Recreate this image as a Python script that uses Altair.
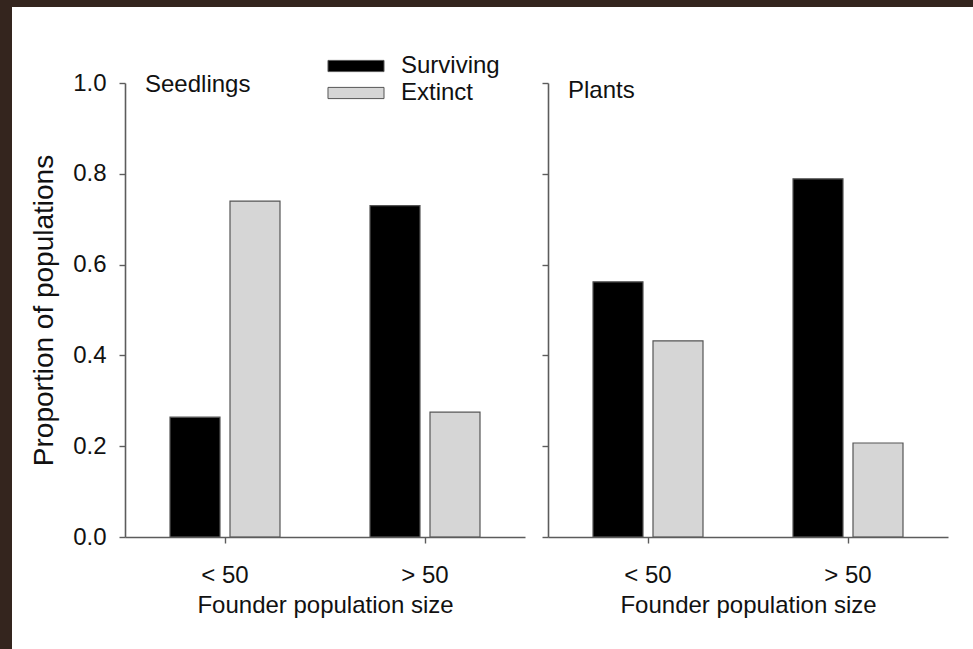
import altair as alt
import pandas as pd

groups = ["< 50", "> 50"]
status = ["Surviving", "Extinct"]
seedlings_surviving = [0.264, 0.730]
seedlings_extinct = [0.740, 0.275]
plants_surviving = [0.562, 0.789]
plants_extinct = [0.432, 0.207]
y_ticks = [0.0, 0.2, 0.4, 0.6, 0.8, 1.0]

FONT = "Liberation Sans"
AXIS_GRAY = "#5c5c5c"


def table(surv, ext):
    rows = []
    for g, s, e in zip(groups, surv, ext):
        rows.append({"group": g, "status": status[0], "value": s})
        rows.append({"group": g, "status": status[1], "value": e})
    return pd.DataFrame(rows)


def panel(df, title, first, title_y):
    color_legend = None
    if first:
        color_legend = alt.Legend(
            title=None, orient="none", legendX=219, legendY=-29,
            symbolType="M-2.5,-0.5L2.5,-0.5L2.5,0.5L-2.5,0.5Z", symbolSize=502,
            symbolStrokeColor="#555555", symbolStrokeWidth=1,
            labelFont=FONT, labelFontSize=24, labelColor="#111111",
            labelOffset=33, rowPadding=3, zindex=1,
        )
    y_axis = alt.Axis(
        values=y_ticks, format=".1f", tickSize=6, labelPadding=13,
        title="Proportion of populations" if first else None,
        labels=first, titlePadding=14, titleFontSize=28, zindex=1,
    )
    bars = alt.Chart(df).mark_bar(stroke="#555555", strokeWidth=1.2).encode(
        x=alt.X("group:N", sort=groups,
                scale=alt.Scale(paddingInner=0, paddingOuter=0),
                axis=alt.Axis(title="Founder population size", labelAngle=0,
                              tickSize=6, labelPadding=20, titlePadding=6,
                              zindex=1)),
        xOffset=alt.XOffset("status:N", sort=status,
                            scale=alt.Scale(paddingInner=1 / 6, paddingOuter=0.75)),
        y=alt.Y("value:Q", scale=alt.Scale(domain=[0, 1], nice=False), axis=y_axis),
        color=alt.Color("status:N",
                        scale=alt.Scale(domain=status, range=["#000000", "#d6d6d6"]),
                        legend=color_legend),
    )
    label = alt.Chart(pd.DataFrame({"t": [title]})).mark_text(
        align="left", baseline="middle", font=FONT, fontSize=24, color="#111111"
    ).encode(text="t:N", x=alt.value(20), y=alt.value(title_y))
    layers = [bars, label]
    if first:
        # white sheet of paper on the dark photographic frame
        sheet = alt.Chart(pd.DataFrame({"s": [0]})).mark_rect(
            fill="white", clip=False
        ).encode(x=alt.value(-113), x2=alt.value(848),
                 y=alt.value(-76), y2=alt.value(566))
        layers = [sheet] + layers
    return alt.layer(*layers).properties(width=400, height=454)


left = panel(table(seedlings_surviving, seedlings_extinct), "Seedlings", True, 2)
right = panel(table(plants_surviving, plants_extinct), "Plants", False, 8)

chart = alt.hconcat(left, right, spacing=23, bounds="flush").resolve_scale(
    color="independent"
).resolve_legend(color="independent").properties(
    background="#34251e",
    padding={"left": 12, "top": 7, "right": 0, "bottom": 0},
).configure_view(stroke=None).configure_axis(
    labelFont=FONT, titleFont=FONT, labelFontSize=24, titleFontSize=24,
    labelColor="#111111", titleColor="#111111", titleFontWeight="normal",
    domainColor=AXIS_GRAY, tickColor=AXIS_GRAY, domainWidth=1.6, tickWidth=1.4,
    grid=False,
)

chart.save("out.html", embed_options={"renderer": "svg", "actions": False})
